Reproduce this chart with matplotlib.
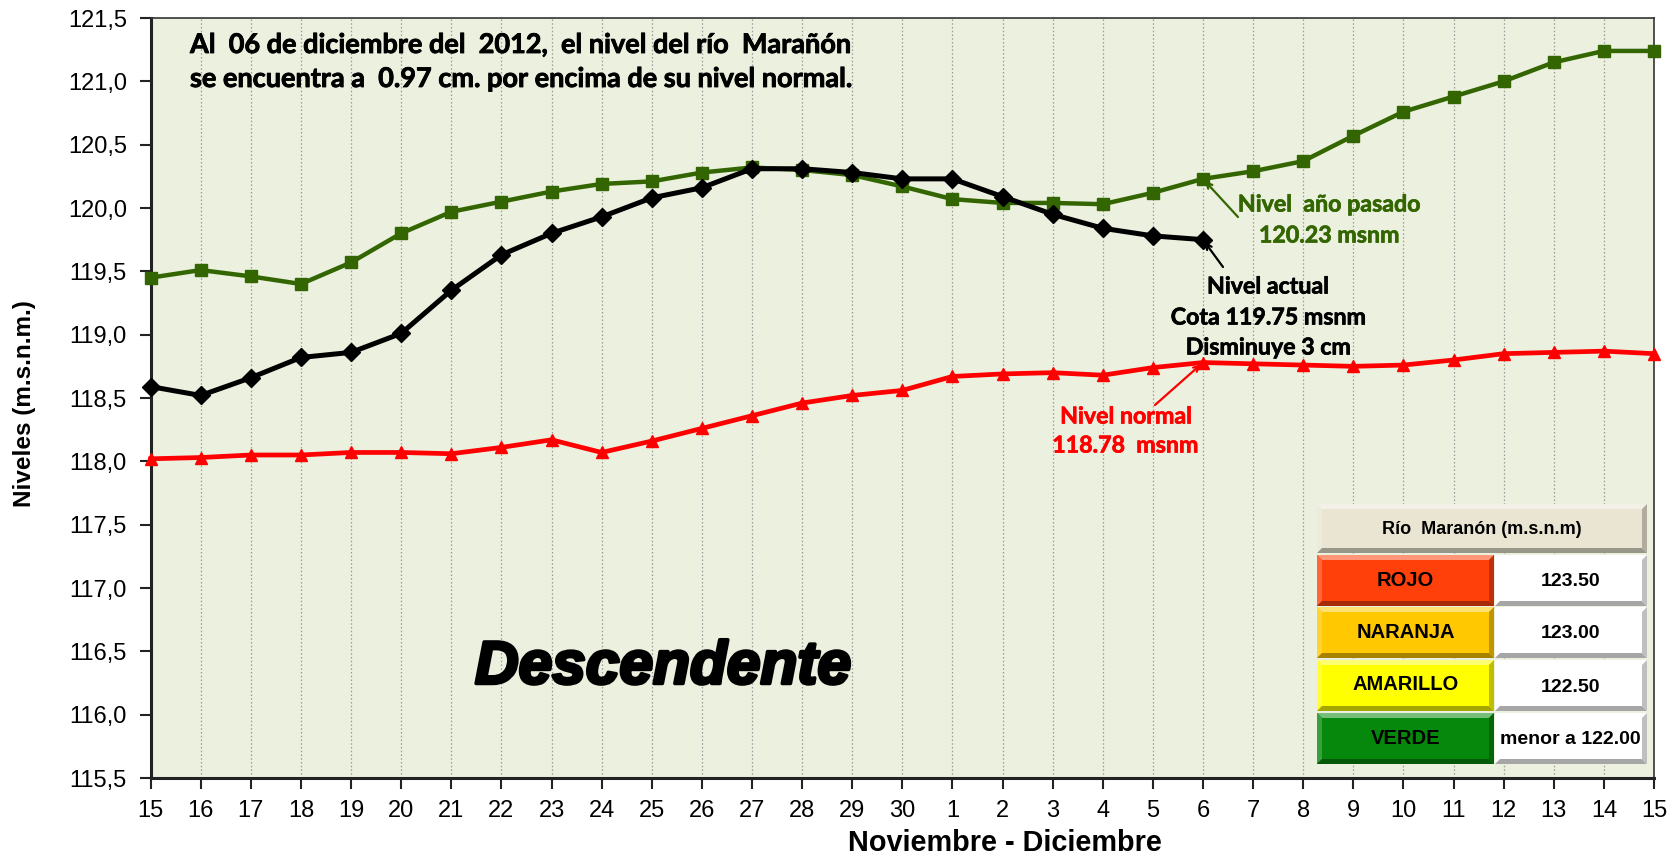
import numpy as np
import matplotlib
matplotlib.use("Agg")
import matplotlib.pyplot as plt
from matplotlib.patches import Polygon, Rectangle
from matplotlib.ticker import FuncFormatter
import matplotlib.colors as mcolors
import matplotlib.patheffects as pe

# ---------------- data ----------------
day_labels = ["15", "16", "17", "18", "19", "20", "21", "22", "23", "24", "25", "26", "27", "28", "29", "30",
              "1", "2", "3", "4", "5", "6", "7", "8", "9", "10", "11", "12", "13", "14", "15"]
nivel_pasado = [119.45, 119.51, 119.46, 119.40, 119.57, 119.80, 119.97, 120.05, 120.13, 120.19, 120.21,
                120.28, 120.32, 120.30, 120.26, 120.17, 120.07, 120.04, 120.04, 120.03, 120.12, 120.23,
                120.29, 120.37, 120.57, 120.76, 120.88, 121.00, 121.15, 121.24, 121.24]
nivel_actual = [118.59, 118.52, 118.66, 118.82, 118.86, 119.01, 119.35, 119.63, 119.80, 119.93, 120.08,
                120.16, 120.31, 120.31, 120.28, 120.23, 120.23, 120.09, 119.95, 119.84, 119.78, 119.75]
nivel_normal = [118.02, 118.03, 118.05, 118.05, 118.07, 118.07, 118.06, 118.11, 118.17, 118.07, 118.16,
                118.26, 118.36, 118.46, 118.52, 118.56, 118.67, 118.69, 118.70, 118.68, 118.74, 118.78,
                118.77, 118.76, 118.75, 118.76, 118.80, 118.85, 118.86, 118.87, 118.85]
alert_names = ["ROJO", "NARANJA", "AMARILLO", "VERDE"]
alert_values = ["123.50", "123.00", "122.50", "menor a 122.00"]
alert_colors = ["#FF400A", "#FFC800", "#FFFF00", "#06880C"]

W, H = 1675, 859
fig = plt.figure(figsize=(W / 100, H / 100), dpi=100)
fig.patch.set_facecolor("white")

L, R, T, B = 150.6, 1654, 18, 778
ax = fig.add_axes([L / W, 1 - B / H, (R - L) / W, (B - T) / H])
ax.set_facecolor("#EBF0DF")

x = np.arange(len(day_labels))
GREEN = "#336600"
ax.plot(x, nivel_normal, color="#FF0000", lw=3.4, marker="^", ms=9, zorder=3, clip_on=False)
ax.plot(x, nivel_pasado, color=GREEN, lw=3.2, marker="s", ms=8.5, zorder=4, clip_on=False)
ax.plot(x[:len(nivel_actual)], nivel_actual, color="black", lw=3.6, marker="D", ms=9.5, zorder=5, clip_on=False)

ax.set_xlim(0, len(day_labels) - 1)
ax.set_ylim(115.5, 121.5)
ax.set_yticks(np.arange(115.5, 121.51, 0.5))
ax.yaxis.set_major_formatter(FuncFormatter(lambda v, p: f"{v:.1f}".replace(".", ",")))
ax.set_xticks(x)
ax.set_xticklabels(day_labels)
for lab in ax.get_xticklabels() + ax.get_yticklabels():
    lab.set_fontfamily("Liberation Sans")
    lab.set_fontsize(17)
ax.tick_params(axis="both", direction="out", length=8, width=1.5, color="#222222")
ax.tick_params(axis="y", pad=9)
ax.tick_params(axis="x", pad=8)
ax.grid(axis="x", color="#999999", lw=0.9, ls=(0, (1.2, 1.8)))
ax.set_axisbelow(True)
for s in ["left", "bottom"]:
    ax.spines[s].set_linewidth(2.2)
    ax.spines[s].set_color("#222222")
for s in ["top", "right"]:
    ax.spines[s].set_linewidth(1.2)
    ax.spines[s].set_color("#333333")

fig.text(1005 / W, 1 - 843 / H, "Noviembre - Diciembre", fontfamily="Liberation Sans",
         fontweight="bold", fontsize=20.8, ha="center", va="center")
fig.text(25 / W, 1 - 404 / H, "Niveles (m.s.n.m.)", fontfamily="Liberation Sans",
         fontweight="bold", fontsize=17.5, ha="center", va="center", rotation=90)

fig.text(190 / W, 1 - 45 / H, "Al  06 de diciembre del  2012,  el nivel del río  Marañón",
         fontfamily="Lato", fontweight="bold", fontsize=19.5, ha="left", va="center",
         path_effects=[pe.withStroke(linewidth=0.6, foreground="black")])
fig.text(190 / W, 1 - 79 / H, "se encuentra a  0.97 cm. por encima de su nivel normal.",
         fontfamily="Lato", fontweight="bold", fontsize=19.5, ha="left", va="center",
         path_effects=[pe.withStroke(linewidth=0.6, foreground="black")])

fig.text(475 / W, 1 - 668 / H, "Descendente", fontfamily="Liberation Sans", fontweight="bold",
         fontstyle="italic", fontsize=43.5, ha="left", va="center",
         path_effects=[pe.withStroke(linewidth=2.5, foreground="black")])

# annotations
i6 = 21
ax.annotate("", xy=(i6, nivel_pasado[i6]), xytext=(1238 / W, 1 - 217 / H), textcoords="figure fraction",
            arrowprops=dict(arrowstyle="->", color=GREEN, lw=1.6, shrinkA=0, shrinkB=2), zorder=6)
ax.annotate("", xy=(i6, nivel_actual[i6]), xytext=(1223 / W, 1 - 267 / H), textcoords="figure fraction",
            arrowprops=dict(arrowstyle="->", color="black", lw=1.6, shrinkA=0, shrinkB=2), zorder=6)
ax.annotate("", xy=(i6, nivel_normal[i6]), xytext=(1155 / W, 1 - 405 / H), textcoords="figure fraction",
            arrowprops=dict(arrowstyle="->", color="#FF0000", lw=1.6, shrinkA=0, shrinkB=2), zorder=6)

def ftext(px, py, s, color, size=16.7):
    fig.text(px / W, 1 - py / H, s, fontfamily="Lato", fontweight="bold", fontsize=size,
             color=color, ha="center", va="center",
             path_effects=[pe.withStroke(linewidth=0.5, foreground=color)])

ftext(1329, 205, "Nivel  año pasado", GREEN)
ftext(1329, 236, "120.23 msnm", GREEN)
ftext(1268, 287, "Nivel actual", "black")
ftext(1268, 318, "Cota 119.75 msnm", "black")
ftext(1268, 348, "Disminuye 3 cm", "black")
ftext(1126, 417, "Nivel normal", "#FF0000")
ftext(1125, 446, "118.78  msnm", "#FF0000")

# ------------- legend table (overlay in pixel coords) -------------
ov = fig.add_axes([0, 0, 1, 1], zorder=10)
ov.set_xlim(0, W)
ov.set_ylim(H, 0)
ov.axis("off")
ov.patch.set_alpha(0)

def shade(c, f):
    r, g, b = mcolors.to_rgb(c)
    if f >= 0:
        return (r + (1 - r) * f, g + (1 - g) * f, b + (1 - b) * f)
    return (r * (1 + f), g * (1 + f), b * (1 + f))

def button(x0, y0, x1, y1, color, bev=5):
    ov.add_patch(Rectangle((x0, y0), x1 - x0, y1 - y0, facecolor=color, edgecolor="none"))
    ov.add_patch(Polygon([(x0, y0), (x1, y0), (x1 - bev, y0 + bev), (x0 + bev, y0 + bev)],
                         facecolor=shade(color, 0.45), edgecolor="none"))
    ov.add_patch(Polygon([(x0, y0), (x0 + bev, y0 + bev), (x0 + bev, y1 - bev), (x0, y1)],
                         facecolor=shade(color, 0.2), edgecolor="none"))
    ov.add_patch(Polygon([(x0, y1), (x0 + bev, y1 - bev), (x1 - bev, y1 - bev), (x1, y1)],
                         facecolor=shade(color, -0.35), edgecolor="none"))
    ov.add_patch(Polygon([(x1, y0), (x1, y1), (x1 - bev, y1 - bev), (x1 - bev, y0 + bev)],
                         facecolor=shade(color, -0.25), edgecolor="none"))

tx0, tx1, tmid = 1317, 1647, 1494
button(tx0, 504, tx1, 553, "#EAE5D3")
narrow = ["Liberation Sans Narrow", "Liberation Sans"]
ov.text((tx0 + tx1) / 2, 529, "Río  Maranón (m.s.n.m)", fontfamily=narrow,
        fontweight="bold", fontsize=13, ha="center", va="center")
row_tops = [555, 607, 660, 713]
rh = 52
for i in range(len(alert_names)):
    y0 = row_tops[i]
    button(tx0, y0, tmid, y0 + rh - 1, alert_colors[i])
    button(tmid + 1, y0, tx1, y0 + rh - 1, "#FFFFFF")
    ov.text((tx0 + tmid) / 2, y0 + rh / 2 - 1, alert_names[i], fontfamily=narrow,
            fontweight="bold", fontsize=14.5, ha="center", va="center")
    ov.text((tmid + tx1) / 2, y0 + rh / 2 + 1, alert_values[i], fontfamily=narrow,
            fontweight="bold", fontsize=14, ha="center", va="center")

fig.savefig("out.png", dpi=100)
